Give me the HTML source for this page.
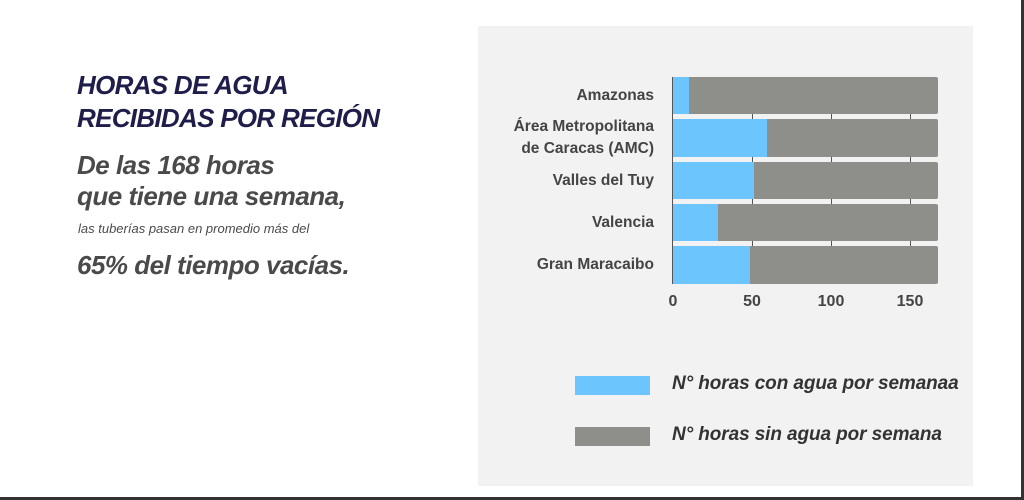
<!DOCTYPE html>
<html><head><meta charset="utf-8"><style>
body{margin:0;width:1024px;height:500px;background:#fff;position:relative;overflow:hidden;font-family:"Liberation Sans",sans-serif}
.a{position:absolute;white-space:nowrap}
.t{font-weight:bold;font-style:italic;color:#1f1d4a;font-size:26px;letter-spacing:-0.7px;left:77px}
.s{font-weight:bold;font-style:italic;color:#4a4a4a;font-size:26px;letter-spacing:-0.5px;left:77px}
.lab{font-weight:bold;color:#444;font-size:15.5px;text-align:right;right:370px;line-height:22px}
.bar{position:absolute;height:37px;left:673px;width:265px;background:#8e8f8b;border-radius:0 2px 2px 0}
.bar i{position:absolute;left:0;top:0;bottom:0;background:#6cc6fd}
.tk{font-weight:bold;color:#444;font-size:16px;top:293px;transform:translateX(-50%)}
.lg{font-weight:bold;font-style:italic;color:#333;font-size:19px;left:672px;letter-spacing:-0.1px}
</style></head><body>
<div class="a" style="left:478px;top:26px;width:495px;height:460px;background:#f2f2f2"></div>
<div class="a" style="left:0;top:497px;width:1024px;height:3px;background:#333"></div>
<div class="a" style="left:1021px;top:0;width:3px;height:500px;background:#333"></div>
<div class="a t" style="top:70px">HORAS DE AGUA</div>
<div class="a t" style="top:103px">RECIBIDAS POR REGIÓN</div>
<div class="a s" style="top:150px">De las 168 horas</div>
<div class="a s" style="top:181px">que tiene una semana,</div>
<div class="a" style="left:78px;top:221px;font-style:italic;color:#4a4a4a;font-size:13px">las tuberías pasan en promedio más del</div>
<div class="a s" style="top:250px">65% del tiempo vacías.</div>
<div class="a" style="left:752px;top:77px;width:1px;height:207px;background:#555"></div>
<div class="a" style="left:831px;top:77px;width:1px;height:207px;background:#555"></div>
<div class="a" style="left:910px;top:77px;width:1px;height:207px;background:#555"></div>
<div class="bar" style="top:77px"><i style="width:16px"></i></div>
<div class="bar" style="top:119px;height:38px"><i style="width:94px"></i></div>
<div class="bar" style="top:162px"><i style="width:81px"></i></div>
<div class="bar" style="top:204px"><i style="width:45px"></i></div>
<div class="bar" style="top:246px;height:38px"><i style="width:77px"></i></div>
<div class="a" style="left:672px;top:77px;width:1px;height:207px;background:#555"></div>
<div class="a lab" style="top:85px">Amazonas</div>
<div class="a lab" style="top:116px">Área Metropolitana<br>de Caracas (AMC)</div>
<div class="a lab" style="top:170px">Valles del Tuy</div>
<div class="a lab" style="top:212px">Valencia</div>
<div class="a lab" style="top:254px">Gran Maracaibo</div>
<div class="a tk" style="left:673px">0</div>
<div class="a tk" style="left:752px">50</div>
<div class="a tk" style="left:831px">100</div>
<div class="a tk" style="left:910px">150</div>
<div class="a" style="left:575px;top:376px;width:75px;height:19px;background:#6cc6fd"></div>
<div class="a" style="left:575px;top:427px;width:75px;height:19px;background:#8e8f8b"></div>
<div class="a lg" style="top:373px">N° horas con agua por semanaa</div>
<div class="a lg" style="top:424px">N° horas sin agua por semana</div>
</body></html>
